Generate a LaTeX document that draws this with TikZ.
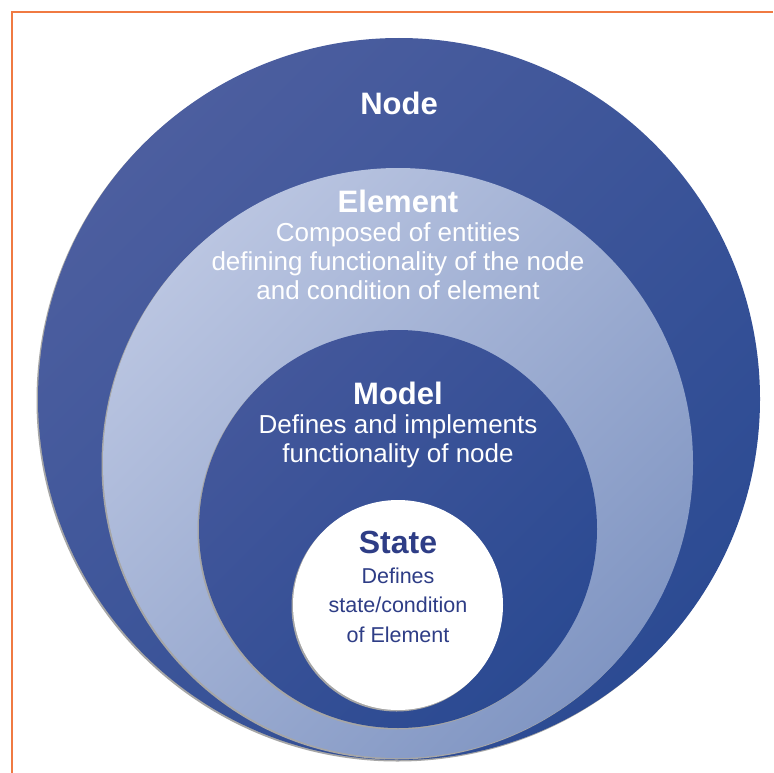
\documentclass[tikz,border=0pt]{standalone}
\usepackage{fontspec}
\setmainfont{Liberation Sans}
\usepackage{tikz}
\usetikzlibrary{positioning}

\definecolor{framecol}{HTML}{F07A42}
\definecolor{outerlight}{HTML}{4C5E9F}
\definecolor{outerdark}{HTML}{2C4B93}
\definecolor{elemlight}{HTML}{BAC5E1}
\definecolor{elemdark}{HTML}{8196C3}
\definecolor{modellight}{HTML}{43579B}
\definecolor{modeldark}{HTML}{2B4A92}
\definecolor{statetext}{HTML}{2E3D86}
\newcommand{\titlefont}{\fontsize{31}{30}\selectfont\bfseries}

\begin{document}
\begin{tikzpicture}[
  x=1pt, y=-1pt,
  ring/.style={shading angle=45},
  ringshadow/.style={fill=black!35},
  ringtext/.style={
    align=center,
    anchor=base,
    inner sep=0pt,
    text=white,
    font=\fontsize{26}{29}\selectfont
  },
  statebody/.style={ringtext, text=statetext, font=\fontsize{21.5}{29.5}\selectfont}
]
  \useasboundingbox[fill=white] (0,0) rectangle (773,773);
  \draw[framecol, line width=1.4pt] (12,773) -- (12,12) -- (773,12);

  % rings, outside in
  \fill[ringshadow] (397.5,400.5) circle (361pt);
  \shade[top color=outerlight, bottom color=outerdark, ring] (399,399) circle (361pt);
  \fill[ringshadow] (396.5,464.5) circle (295pt);
  \shade[top color=elemlight, bottom color=elemdark, ring] (398,463) circle (295pt);
  \fill[ringshadow] (396.5,530.5) circle (199pt);
  \shade[top color=modellight, bottom color=modeldark, ring] (398,529) circle (199pt);
  \fill[ringshadow] (396.5,606.5) circle (105pt);
  \fill[white] (398,605) circle (105pt);

  % base anchor sits on the last line
  \node[ringtext] (nodetext) at (399,115) {\titlefont Node};
  \node[ringtext] (elementtext) at (398,299) {{\titlefont Element}\\Composed of entities\\defining functionality of the node\\and condition of element};
  \node[ringtext] (modeltext) at (398,462) {{\titlefont Model}\\Defines and implements\\functionality of node};
  \node[statebody] (statetext) at (398,642) {{\titlefont\fontsize{32}{30}\selectfont State}\\Defines\\state/condition\\of Element};
\end{tikzpicture}
\end{document}
